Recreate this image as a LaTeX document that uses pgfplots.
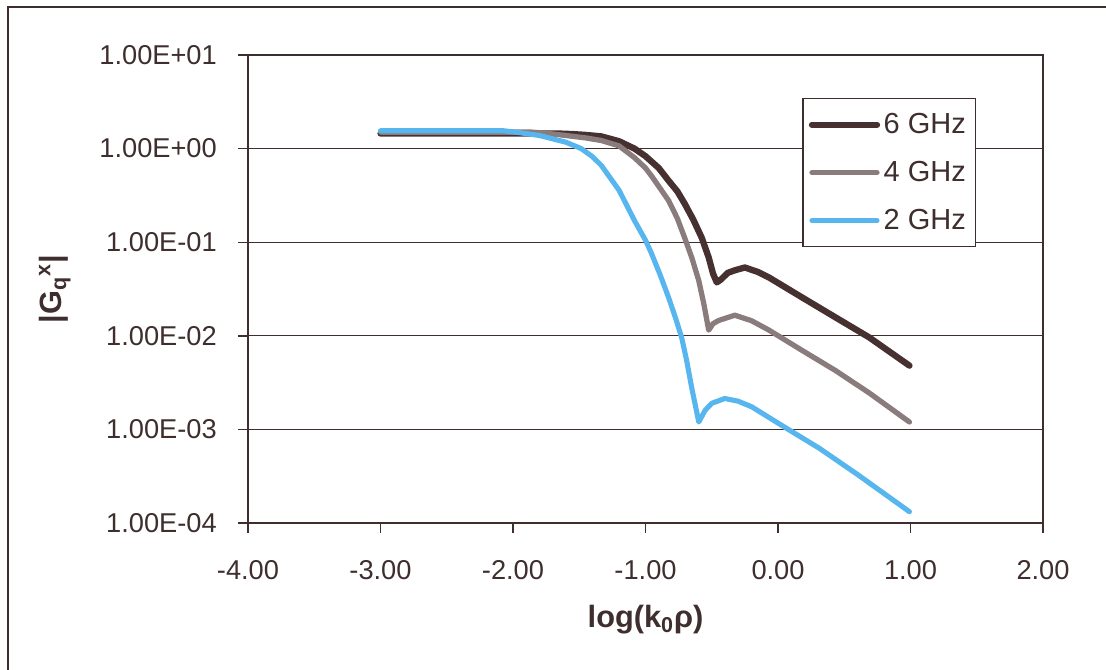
\documentclass[border=0pt]{standalone}
\usepackage{pgfplots}
\pgfplotsset{compat=1.18}
\usepackage{fontspec}
\setmainfont{Liberation Sans}
\definecolor{axisbrown}{HTML}{3E2E2E}
\definecolor{sixghz}{HTML}{463030}
\definecolor{fourghz}{HTML}{8A7C7C}
\definecolor{twoghz}{HTML}{58B6EE}
\begin{document}
\begin{tikzpicture}
\begin{axis}[
  name=main,
  scale only axis,
  width=15.9cm, height=9.36cm,
  xmin=-4, xmax=2,
  ymode=log, ymin=1e-4, ymax=10,
  xtick={-4,-3,-2,-1,0,1,2},
  xticklabels={-4.00,-3.00,-2.00,-1.00,0.00,1.00,2.00},
  ytick={1e-4,1e-3,1e-2,1e-1,1,10},
  yticklabels={1.00E-04,1.00E-03,1.00E-02,1.00E-01,1.00E+00,1.00E+01},
  yminorticks=false,
  ymajorgrids,
  major grid style={axisbrown, line width=0.7pt},
  axis line style={axisbrown, line width=0.8pt},
  tick style={axisbrown, line width=0.8pt},
  tick align=outside,
  major tick length=0.2cm,
  xtick pos=bottom, ytick pos=left,
  tick label style={font=\fontsize{15.5}{18}\selectfont, text=axisbrown},
  xticklabel style={yshift=-0.42cm},
  yticklabel style={xshift=-0.3cm},
  xlabel={\textbf{log(k\textsubscript{0}ρ)}},
  ylabel={\textbf{|G\textsubscript{q}\textsuperscript{x}|}},
  label style={font=\fontsize{17.5}{20}\selectfont, text=axisbrown},
  xlabel style={at={(axis description cs:0.5,-0.207)}, anchor=center},
  ylabel style={at={(axis description cs:-0.243,0.50)}, anchor=center},
  legend style={at={(0.697,0.908)}, anchor=north west, draw=axisbrown,
    line width=0.8pt, fill=white, font=\fontsize{16.5}{19}\selectfont,
    text=axisbrown, inner xsep=0.12cm, inner ysep=0.22cm,
    row sep=0.36cm, cells={anchor=west}},
  legend image code/.code={\draw[#1] (0cm,0cm) -- (1.3cm,0cm);},
  every axis plot/.append style={line cap=round, line join=round},
]
\addplot[sixghz, line width=3.6pt] coordinates {
  (-3,1.45) (-2,1.45) (-1.66,1.45) (-1.55,1.43) (-1.45,1.40) (-1.333,1.35)
  (-1.2,1.2) (-1.083,1.0) (-1.0,0.83) (-0.9,0.62) (-0.826,0.455)
  (-0.76,0.35) (-0.705,0.259) (-0.64,0.175) (-0.576,0.112) (-0.523,0.0687)
  (-0.49,0.046) (-0.462,0.0372) (-0.43,0.040) (-0.38,0.047) (-0.326,0.0501)
  (-0.25,0.0537) (-0.15,0.048) (-0.068,0.042) (0.182,0.0257) (0.432,0.0158)
  (0.689,0.0096) (0.992,0.0048)
};
\addlegendentry{6 GHz}
\addplot[fourghz, line width=3.0pt] coordinates {
  (-3,1.5) (-1.86,1.5) (-1.75,1.46) (-1.6,1.38) (-1.45,1.30) (-1.333,1.22)
  (-1.2,1.07) (-1.083,0.80) (-1.0,0.62) (-0.95,0.50) (-0.826,0.279)
  (-0.76,0.18) (-0.705,0.112) (-0.65,0.068) (-0.598,0.0389) (-0.56,0.022)
  (-0.523,0.0115) (-0.49,0.0135) (-0.447,0.0146) (-0.326,0.0166)
  (-0.2,0.0145) (-0.068,0.0115) (0.182,0.00698) (0.432,0.00427)
  (0.689,0.00245) (0.992,0.0012)
};
\addlegendentry{4 GHz}
\addplot[twoghz, line width=2.9pt] coordinates {
  (-3,1.55) (-2.07,1.55) (-1.95,1.48) (-1.8,1.38) (-1.6,1.17) (-1.485,1.0)
  (-1.4,0.82) (-1.333,0.66) (-1.2,0.36) (-1.083,0.17) (-1.0,0.105)
  (-0.955,0.076) (-0.89,0.045) (-0.826,0.0257) (-0.77,0.015)
  (-0.727,0.00955) (-0.69,0.0055) (-0.652,0.00282) (-0.598,0.0012)
  (-0.55,0.0016) (-0.5,0.0019) (-0.402,0.00214) (-0.3,0.0020)
  (-0.197,0.00174) (0.053,0.00105) (0.311,0.00063) (0.6,0.00033)
  (0.992,0.000132)
};
\addlegendentry{2 GHz}
\end{axis}
% outer chart frame (left and top edges) and page extent
\path (main.south west) ++(-4.96cm,-2.92cm) coordinate (pgSW);
\path (main.south west) ++(17.16cm,10.46cm) coordinate (pgNE);
\path[use as bounding box] (pgSW) rectangle (pgNE);
\draw[axisbrown, line width=0.8pt]
  ([shift={(-4.8cm,-3cm)}]main.south west) -- ([shift={(-4.8cm,10.32cm)}]main.south west)
  -- ([shift={(17.3cm,10.32cm)}]main.south west);
\end{tikzpicture}
\end{document}
